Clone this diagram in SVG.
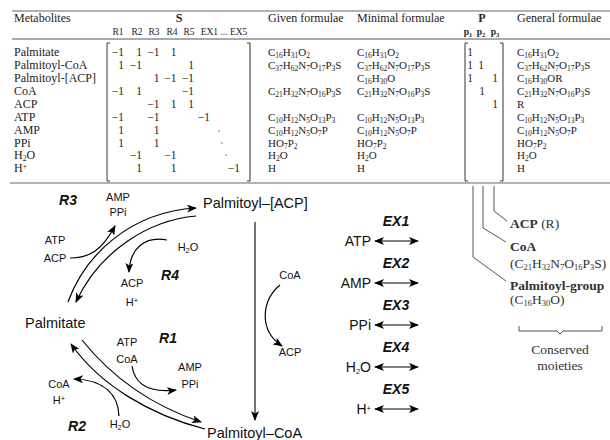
<svg xmlns="http://www.w3.org/2000/svg" width="610" height="440" viewBox="0 0 610 440">
<defs>
<marker id="ah" viewBox="0 0 10 8" refX="9" refY="4" markerWidth="10" markerHeight="8" markerUnits="userSpaceOnUse" orient="auto-start-reverse"><path d="M0,0 L10,4 L0,8 L2.5,4 z" fill="#000"/></marker>
</defs>
<style>
.t{font-family:"Liberation Serif","Times New Roman",serif;font-size:12px;fill:#222}
.hb{font-family:"Liberation Serif",serif;font-size:12px;font-weight:bold;fill:#222;text-anchor:middle}
.h2{font-family:"Liberation Serif",serif;font-size:9.5px;fill:#222;text-anchor:middle}
.m{font-family:"Liberation Serif",serif;font-size:11.5px;text-anchor:end;fill:#222}
.pm{font-family:"Liberation Serif",serif;font-size:11.5px;text-anchor:middle;fill:#222}
.f{font-family:"Liberation Serif",serif;font-size:11px;fill:#222}
.s{font-size:7.5px;baseline-shift:-2px}
.sp{font-size:7.5px;baseline-shift:3.5px}
.n{font-family:"Liberation Sans",Arial,sans-serif;font-size:14.5px;fill:#111}
.x{font-family:"Liberation Sans",Arial,sans-serif;font-size:14px;fill:#111;text-anchor:end}
.l{font-family:"Liberation Sans",Arial,sans-serif;font-size:11px;fill:#111;text-anchor:middle}
.r{font-family:"Liberation Sans",Arial,sans-serif;font-size:14px;font-weight:bold;font-style:italic;text-anchor:middle;fill:#111}
.c{fill:none;stroke:#000;stroke-width:1.2}
.g{fill:none;stroke:#555;stroke-width:1}
.rule{stroke:#999;stroke-width:1.6}
.br{fill:none;stroke:#333;stroke-width:1}
.cm{font-family:"Liberation Serif",serif;font-size:13.5px;fill:#333}
.cs{font-size:8.5px;baseline-shift:-2px}
</style>

<g id="table">
<line class="rule" x1="12" y1="11" x2="610" y2="11"/>
<line x1="12" y1="39" x2="610" y2="39" stroke="#555" stroke-width="1"/>
<line class="rule" x1="10" y1="183" x2="610" y2="183"/>
<text class="t" x="14" y="22">Metabolites</text>
<text class="hb" x="179" y="22">S</text>
<text class="t" x="268" y="22">Given formulae</text>
<text class="t" x="357" y="22">Minimal formulae</text>
<text class="hb" x="482" y="22">P</text>
<text class="t" x="517" y="22">General formulae</text>
<text class="h2" x="118" y="35">R1</text>
<text class="h2" x="137" y="35">R2</text>
<text class="h2" x="154" y="35">R3</text>
<text class="h2" x="172" y="35">R4</text>
<text class="h2" x="189" y="35">R5</text>
<text class="h2" x="224" y="35">EX1 ... EX5</text>
<text class="h2" x="468" y="35" font-weight="bold">p<tspan style="font-size:6.5px;baseline-shift:-1.5px">1</tspan></text>
<text class="h2" x="481" y="35" font-weight="bold">p<tspan style="font-size:6.5px;baseline-shift:-1.5px">2</tspan></text>
<text class="h2" x="495" y="35" font-weight="bold">p<tspan style="font-size:6.5px;baseline-shift:-1.5px">3</tspan></text>

<g id="names">
<text class="t" x="14" y="56">Palmitate</text>
<text class="t" x="14" y="69">Palmitoyl-CoA</text>
<text class="t" x="14" y="82">Palmitoyl-[ACP]</text>
<text class="t" x="14" y="95">CoA</text>
<text class="t" x="14" y="108">ACP</text>
<text class="t" x="14" y="121">ATP</text>
<text class="t" x="14" y="133.5">AMP</text>
<text class="t" x="14" y="146.5">PPi</text>
<text class="t" x="14" y="159">H<tspan class="s">2</tspan>O</text>
<text class="t" x="14" y="172">H<tspan class="sp">+</tspan></text>
</g>

<g id="S">
<path class="br" d="M110,43 H107 V181 H110 M247,43 H250 V181 H247"/>
<text class="m" x="124" y="56">−1</text><text class="m" x="142" y="56">1</text><text class="m" x="159.5" y="56">−1</text><text class="m" x="176.5" y="56">1</text>
<text class="m" x="124" y="69">1</text><text class="m" x="142" y="69">−1</text><text class="m" x="194" y="69">1</text>
<text class="m" x="159.5" y="82">1</text><text class="m" x="176.5" y="82">−1</text><text class="m" x="194" y="82">−1</text>
<text class="m" x="124" y="95">−1</text><text class="m" x="142" y="95">1</text><text class="m" x="194" y="95">−1</text>
<text class="m" x="159.5" y="108">−1</text><text class="m" x="176.5" y="108">1</text><text class="m" x="194" y="108">1</text>
<text class="m" x="124" y="121">−1</text><text class="m" x="159.5" y="121">−1</text><text class="m" x="210" y="121">−1</text>
<text class="m" x="124" y="133.5">1</text><text class="m" x="159.5" y="133.5">1</text>
<text class="m" x="124" y="146.5">1</text><text class="m" x="159.5" y="146.5">1</text>
<text class="m" x="142" y="159">−1</text><text class="m" x="176.5" y="159">−1</text>
<text class="m" x="142" y="172">1</text><text class="m" x="176.5" y="172">1</text><text class="m" x="240" y="172">−1</text>
<circle cx="219" cy="131" r="0.8" fill="#666"/>
<circle cx="222" cy="143" r="0.8" fill="#666"/>
<circle cx="226" cy="155" r="0.8" fill="#666"/>
</g>

<g id="given">
<text class="f" x="268" y="56">C<tspan class="s">16</tspan>H<tspan class="s">31</tspan>O<tspan class="s">2</tspan></text>
<text class="f" x="268" y="69">C<tspan class="s">37</tspan>H<tspan class="s">62</tspan>N<tspan class="s">7</tspan>O<tspan class="s">17</tspan>P<tspan class="s">3</tspan>S</text>
<text class="f" x="268" y="95">C<tspan class="s">21</tspan>H<tspan class="s">32</tspan>N<tspan class="s">7</tspan>O<tspan class="s">16</tspan>P<tspan class="s">3</tspan>S</text>
<text class="f" x="268" y="121">C<tspan class="s">10</tspan>H<tspan class="s">12</tspan>N<tspan class="s">5</tspan>O<tspan class="s">13</tspan>P<tspan class="s">3</tspan></text>
<text class="f" x="268" y="133.5">C<tspan class="s">10</tspan>H<tspan class="s">12</tspan>N<tspan class="s">5</tspan>O<tspan class="s">7</tspan>P</text>
<text class="f" x="268" y="146.5">HO<tspan class="s">7</tspan>P<tspan class="s">2</tspan></text>
<text class="f" x="268" y="159">H<tspan class="s">2</tspan>O</text>
<text class="f" x="268" y="172">H</text>
</g>

<g id="minimal">
<text class="f" x="357" y="56">C<tspan class="s">16</tspan>H<tspan class="s">31</tspan>O<tspan class="s">2</tspan></text>
<text class="f" x="357" y="69">C<tspan class="s">37</tspan>H<tspan class="s">62</tspan>N<tspan class="s">7</tspan>O<tspan class="s">17</tspan>P<tspan class="s">3</tspan>S</text>
<text class="f" x="357" y="82">C<tspan class="s">16</tspan>H<tspan class="s">30</tspan>O</text>
<text class="f" x="357" y="95">C<tspan class="s">21</tspan>H<tspan class="s">32</tspan>N<tspan class="s">7</tspan>O<tspan class="s">16</tspan>P<tspan class="s">3</tspan>S</text>
<text class="f" x="357" y="121">C<tspan class="s">10</tspan>H<tspan class="s">12</tspan>N<tspan class="s">5</tspan>O<tspan class="s">13</tspan>P<tspan class="s">3</tspan></text>
<text class="f" x="357" y="133.5">C<tspan class="s">10</tspan>H<tspan class="s">12</tspan>N<tspan class="s">5</tspan>O<tspan class="s">7</tspan>P</text>
<text class="f" x="357" y="146.5">HO<tspan class="s">7</tspan>P<tspan class="s">2</tspan></text>
<text class="f" x="357" y="159">H<tspan class="s">2</tspan>O</text>
<text class="f" x="357" y="172">H</text>
</g>

<g id="P">
<path class="br" d="M468,43 H465 V181 H468 M500,43 H503 V181 H500"/>
<text class="pm" x="470" y="56">1</text>
<text class="pm" x="470" y="69">1</text><text class="pm" x="481" y="69">1</text>
<text class="pm" x="470" y="82">1</text><text class="pm" x="495" y="82">1</text>
<text class="pm" x="482" y="95">1</text>
<text class="pm" x="495" y="108">1</text>
</g>

<g id="general">
<text class="f" x="517" y="56">C<tspan class="s">16</tspan>H<tspan class="s">31</tspan>O<tspan class="s">2</tspan></text>
<text class="f" x="517" y="69">C<tspan class="s">37</tspan>H<tspan class="s">62</tspan>N<tspan class="s">7</tspan>O<tspan class="s">17</tspan>P<tspan class="s">3</tspan>S</text>
<text class="f" x="517" y="82">C<tspan class="s">16</tspan>H<tspan class="s">30</tspan>OR</text>
<text class="f" x="517" y="95">C<tspan class="s">21</tspan>H<tspan class="s">32</tspan>N<tspan class="s">7</tspan>O<tspan class="s">16</tspan>P<tspan class="s">3</tspan>S</text>
<text class="f" x="517" y="108">R</text>
<text class="f" x="517" y="121">C<tspan class="s">10</tspan>H<tspan class="s">12</tspan>N<tspan class="s">5</tspan>O<tspan class="s">13</tspan>P<tspan class="s">3</tspan></text>
<text class="f" x="517" y="133.5">C<tspan class="s">10</tspan>H<tspan class="s">12</tspan>N<tspan class="s">5</tspan>O<tspan class="s">7</tspan>P</text>
<text class="f" x="517" y="146.5">HO<tspan class="s">7</tspan>P<tspan class="s">2</tspan></text>
<text class="f" x="517" y="159">H<tspan class="s">2</tspan>O</text>
<text class="f" x="517" y="172">H</text>
</g>
</g>

<g id="connectors">
<path class="c" d="M68,302 C85,255 130,212 196,208" marker-end="url(#ah)"/>
<path class="c" d="M196,216 C150,220 100,250 76,302" marker-end="url(#ah)"/>
<path class="c" d="M70,258 C90,258 102,250 115,226" marker-end="url(#ah)"/>
<path class="c" d="M167,240 C145,236 130,248 129,272" marker-end="url(#ah)"/>
<path class="c" d="M82,340 C110,375 150,405 201,422" marker-end="url(#ah)"/>
<path class="c" d="M205,429 C150,415 100,385 71,344" marker-end="url(#ah)"/>
<path class="c" d="M132,366 C135,385 150,393 176,390" marker-end="url(#ah)"/>
<path class="c" d="M119,416 C118,395 105,380 74,379" marker-end="url(#ah)"/>
<line x1="255" y1="222" x2="255" y2="420" stroke="#444" stroke-width="1.5" marker-end="url(#ah)"/>
<path class="c" d="M280,285 C262,300 258,330 282,346" marker-end="url(#ah)"/>
<line class="c" x1="375" y1="241" x2="418" y2="241" marker-start="url(#ah)" marker-end="url(#ah)"/>
<line class="c" x1="375" y1="283" x2="418" y2="283" marker-start="url(#ah)" marker-end="url(#ah)"/>
<line class="c" x1="375" y1="325" x2="418" y2="325" marker-start="url(#ah)" marker-end="url(#ah)"/>
<line class="c" x1="375" y1="367" x2="418" y2="367" marker-start="url(#ah)" marker-end="url(#ah)"/>
<line class="c" x1="375" y1="409" x2="418" y2="409" marker-start="url(#ah)" marker-end="url(#ah)"/>
</g>

<g id="palmitoyl-acp"><text class="n" x="203" y="208">Palmitoyl–[ACP]</text></g>
<g id="palmitate"><text class="n" x="25" y="328">Palmitate</text></g>
<g id="palmitoyl-coa"><text class="n" x="207" y="438">Palmitoyl–CoA</text></g>

<g id="R3">
<text class="r" x="68" y="205">R3</text>
<text class="l" x="118" y="201">AMP</text>
<text class="l" x="118" y="216">PPi</text>
<text class="l" x="55" y="244">ATP</text>
<text class="l" x="55" y="262">ACP</text>
</g>
<g id="R4">
<text class="r" x="170" y="280">R4</text>
<text class="l" x="188" y="251">H<tspan class="s">2</tspan>O</text>
<text class="l" x="132" y="287">ACP</text>
<text class="l" x="132" y="306">H<tspan class="sp">+</tspan></text>
</g>
<g id="R5">
<text class="l" x="290" y="279">CoA</text>
<text class="l" x="290" y="356">ACP</text>
</g>
<g id="R1">
<text class="r" x="168" y="343">R1</text>
<text class="l" x="127" y="346">ATP</text>
<text class="l" x="127" y="363">CoA</text>
<text class="l" x="190" y="371">AMP</text>
<text class="l" x="190" y="388">PPi</text>
</g>
<g id="R2">
<text class="r" x="77" y="431">R2</text>
<text class="l" x="59" y="388">CoA</text>
<text class="l" x="59" y="404">H<tspan class="sp">+</tspan></text>
<text class="l" x="120" y="428">H<tspan class="s">2</tspan>O</text>
</g>

<g id="exchange">
<text class="r" x="396" y="226">EX1</text>
<text class="x" x="371" y="246">ATP</text>
<text class="r" x="396" y="268">EX2</text>
<text class="x" x="371" y="288">AMP</text>
<text class="r" x="396" y="310">EX3</text>
<text class="x" x="371" y="330">PPi</text>
<text class="r" x="396" y="352">EX4</text>
<text class="x" x="371" y="372">H<tspan class="s">2</tspan>O</text>
<text class="r" x="396" y="394">EX5</text>
<text class="x" x="371" y="414">H<tspan class="sp">+</tspan></text>
</g>

<g id="moieties">
<path class="g" d="M494,186 V211 L507,221 M483,186 V228 L506,242 M473,186 V257 L506,281"/>
<text class="cm" x="510" y="228"><tspan font-weight="bold">ACP</tspan> (R)</text>
<text class="cm" x="510" y="251" font-weight="bold">CoA</text>
<text class="cm" x="510" y="268">(C<tspan class="cs">21</tspan>H<tspan class="cs">32</tspan>N<tspan class="cs">7</tspan>O<tspan class="cs">16</tspan>P<tspan class="cs">3</tspan>S)</text>
<text class="cm" x="510" y="290" font-weight="bold">Palmitoyl-group</text>
<text class="cm" x="510" y="304">(C<tspan class="cs">16</tspan>H<tspan class="cs">30</tspan>O)</text>
<path class="g" d="M519,326 V331 H557 L560,334 L563,331 H602 V326"/>
<text class="cm" x="560" y="354" text-anchor="middle">Conserved</text>
<text class="cm" x="560" y="370" text-anchor="middle">moieties</text>
</g>
</svg>
